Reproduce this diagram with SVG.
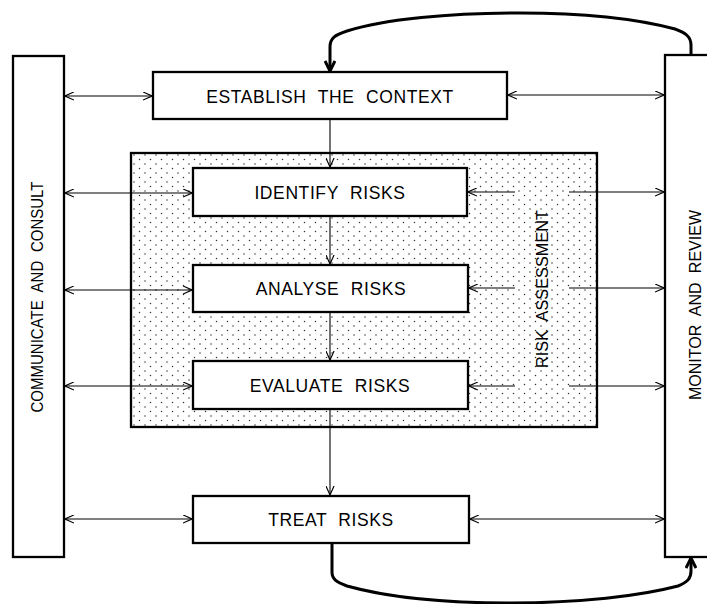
<svg xmlns="http://www.w3.org/2000/svg" width="707" height="604" viewBox="0 0 707 604">
<style>
.box{fill:#fff;stroke:#000;stroke-width:2.3}
.lbl{font-family:"Liberation Sans",Arial,sans-serif;font-size:17.5px;fill:#000;text-anchor:middle;letter-spacing:0.6px;word-spacing:6px}
.vlbl{font-family:"Liberation Sans",Arial,sans-serif;font-size:16.5px;fill:#000;text-anchor:middle;word-spacing:5px}
.thin{fill:none;stroke:#000;stroke-width:1.1}
.thick{fill:none;stroke:#000;stroke-width:3;stroke-linejoin:round}
</style>
<defs>
<pattern id="dots" width="11" height="9" patternUnits="userSpaceOnUse">
<rect width="11" height="9" fill="#fff"/>
<circle cx="2" cy="2" r="0.75" fill="#333"/>
<circle cx="7.5" cy="6.5" r="0.75" fill="#333"/>
</pattern>
<marker id="ah" viewBox="0 0 10 10" refX="10" refY="5" markerWidth="9" markerHeight="9" markerUnits="userSpaceOnUse" orient="auto-start-reverse">
<path d="M0,0.5 L10,5 L0,9.5" fill="none" stroke="#000" stroke-width="1.3"/>
</marker>
<marker id="ahb" viewBox="0 0 12 12" refX="11" refY="6" markerWidth="12" markerHeight="12" markerUnits="userSpaceOnUse" orient="auto">
<path d="M1,1 L11,6 L1,11" fill="none" stroke="#000" stroke-width="3"/>
</marker>
</defs>
<rect width="707" height="604" fill="#fff"/>

<g id="risk-assessment">
<rect x="131" y="153" width="466" height="274" fill="url(#dots)" stroke="#000" stroke-width="2.3"/>
<text class="vlbl" transform="translate(542,289) rotate(-90)" x="0" y="6" textLength="158" lengthAdjust="spacingAndGlyphs">RISK ASSESSMENT</text>
</g>

<g id="communicate">
<rect class="box" x="13" y="56" width="51" height="501"/>
<text class="vlbl" transform="translate(37,297) rotate(-90)" x="0" y="6" textLength="231" lengthAdjust="spacingAndGlyphs">COMMUNICATE AND CONSULT</text>
</g>

<g id="monitor">
<rect class="box" x="665" y="55" width="60" height="502"/>
<text class="vlbl" transform="translate(695,305) rotate(-90)" x="0" y="6" textLength="190" lengthAdjust="spacingAndGlyphs">MONITOR AND REVIEW</text>
</g>

<g id="establish">
<rect class="box" x="153" y="72" width="354" height="47"/>
<text class="lbl" x="330" y="102.5">ESTABLISH THE CONTEXT</text>
</g>

<g id="identify">
<rect class="box" x="193" y="168" width="274" height="48"/>
<text class="lbl" x="330" y="198.5">IDENTIFY RISKS</text>
</g>

<g id="analyse">
<rect class="box" x="193" y="265" width="275" height="47"/>
<text class="lbl" x="331" y="294.5">ANALYSE RISKS</text>
</g>

<g id="evaluate">
<rect class="box" x="193" y="361" width="275" height="48"/>
<text class="lbl" x="330" y="391.5">EVALUATE RISKS</text>
</g>

<g id="treat">
<rect class="box" x="193" y="496" width="276" height="47"/>
<text class="lbl" x="331" y="525.5">TREAT RISKS</text>
</g>

<g id="connectors">
<line class="thin" x1="65" y1="96" x2="152" y2="96" marker-start="url(#ah)" marker-end="url(#ah)"/>
<line class="thin" x1="65" y1="193" x2="192" y2="193" marker-start="url(#ah)" marker-end="url(#ah)"/>
<line class="thin" x1="65" y1="290" x2="192" y2="290" marker-start="url(#ah)" marker-end="url(#ah)"/>
<line class="thin" x1="65" y1="386" x2="192" y2="386" marker-start="url(#ah)" marker-end="url(#ah)"/>
<line class="thin" x1="65" y1="519" x2="192" y2="519" marker-start="url(#ah)" marker-end="url(#ah)"/>
<line class="thin" x1="508" y1="95" x2="664" y2="95" marker-start="url(#ah)" marker-end="url(#ah)"/>
<line class="thin" x1="515" y1="192" x2="468" y2="192" marker-end="url(#ah)"/>
<line class="thin" x1="569" y1="192" x2="664" y2="192" marker-end="url(#ah)"/>
<line class="thin" x1="515" y1="288" x2="469" y2="288" marker-end="url(#ah)"/>
<line class="thin" x1="569" y1="288" x2="664" y2="288" marker-end="url(#ah)"/>
<line class="thin" x1="515" y1="386" x2="469" y2="386" marker-end="url(#ah)"/>
<line class="thin" x1="569" y1="386" x2="664" y2="386" marker-end="url(#ah)"/>
<line class="thin" x1="470" y1="519" x2="664" y2="519" marker-start="url(#ah)" marker-end="url(#ah)"/>
<line class="thin" x1="330" y1="120" x2="330" y2="167" marker-end="url(#ah)"/>
<line class="thin" x1="330" y1="217" x2="330" y2="264" marker-end="url(#ah)"/>
<line class="thin" x1="330" y1="313" x2="330" y2="360" marker-end="url(#ah)"/>
<line class="thin" x1="330" y1="410" x2="330" y2="495" marker-end="url(#ah)"/>
<path class="thick" d="M691,55 V45 C691,37 686,33 675,29 C630,17 580,13 520,13 C450,13 385,19 347,31 C335,35 330,38 330,47 V71" marker-end="url(#ahb)"/>
<path class="thick" d="M332,543 V572 C332,579 336,582 347,586 C390,598 450,603 510,603 C580,603 640,596 678,586 C688,582 691,578 691,571 V558" marker-end="url(#ahb)"/>
</g>
</svg>
